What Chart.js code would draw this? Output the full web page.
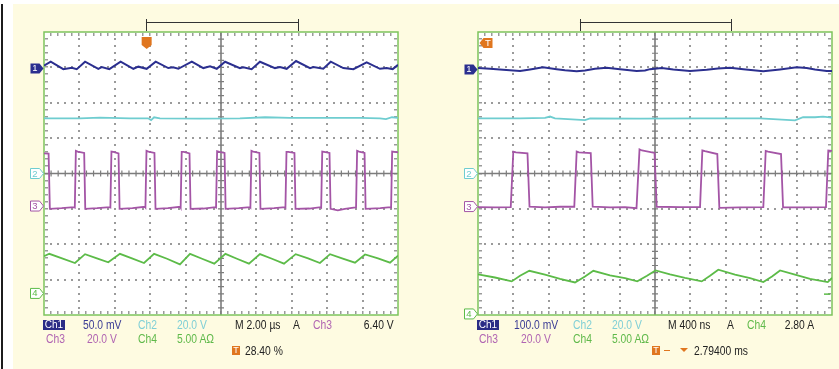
<!DOCTYPE html>
<html>
<head>
<meta charset="utf-8">
<script src="https://cdn.jsdelivr.net/npm/chart.js@4.4.1/dist/chart.umd.min.js"></script>
<style>
html,body{margin:0;padding:0;background:#fff;overflow:hidden}
#page{position:relative;width:839px;height:369px;background:#fff;font-family:"Liberation Sans",Arial,sans-serif;font-size:12px}
#cream{position:absolute;left:13px;top:4px;right:0;bottom:0;background:#fefbe1}
#bar{position:absolute;left:1px;top:4px;width:2px;bottom:0;background:#1c1c1c}
canvas{position:absolute;top:12px}
.t{position:absolute;white-space:nowrap;line-height:14px;transform:scaleX(0.86);transform-origin:0 50%}
.t.ra{transform-origin:100% 50%;text-align:right}
.r1{top:317.5px}.r2{top:332px}.r3{top:343.5px}
.nv{color:#3b3c95}.cy{color:#7fcfd6}.mg{color:#b064b2}.gr{color:#5fb94a}.bk{color:#222}
.chbox{position:absolute;top:320px;width:22px;height:10px;background:#2a2c86;color:#fff;font-size:10px;line-height:10px;text-align:center}
.tbox{position:absolute;top:345.5px;width:8px;height:9.5px;background:#e0761f;color:#fff;font-size:9px;line-height:9.5px;text-align:center}
.mk{position:absolute;width:10px;height:10px;font-size:9.5px;line-height:10px;text-align:center}
</style>
</head>
<body>
<div id="page">
  <div id="cream"></div>
  <div id="bar"></div>
  <canvas id="left" width="380" height="323" style="left:24px"></canvas>
  <canvas id="right" width="380" height="323" style="left:458px"></canvas>

  <div class="chbox" style="left:43px">Ch1</div>
  <div class="t r1 nv" style="left:82.5px">50.0 mV</div>
  <div class="t r1 cy" style="left:138px">Ch2</div>
  <div class="t r1 cy" style="left:177px">20.0 V</div>
  <div class="t r1 bk" style="left:235px">M 2.00 µs</div>
  <div class="t r1 bk" style="left:293px">A</div>
  <div class="t r1 mg" style="left:312.5px">Ch3</div>
  <div class="t r1 bk ra" style="right:445.5px">6.40 V</div>
  <div class="t r2 mg" style="left:46px">Ch3</div>
  <div class="t r2 mg" style="left:87px">20.0 V</div>
  <div class="t r2 gr" style="left:138px">Ch4</div>
  <div class="t r2 gr" style="left:177px">5.00 AΩ</div>
  <div class="tbox" style="left:232px">T</div>
  <div class="t r3 bk" style="left:245px">28.40 %</div>

  <div class="chbox" style="left:477px">Ch1</div>
  <div class="t r1 nv" style="left:514px">100.0 mV</div>
  <div class="t r1 cy" style="left:572.5px">Ch2</div>
  <div class="t r1 cy" style="left:611.5px">20.0 V</div>
  <div class="t r1 bk" style="left:668px">M 400 ns</div>
  <div class="t r1 bk" style="left:726.5px">A</div>
  <div class="t r1 gr" style="left:746.5px">Ch4</div>
  <div class="t r1 bk ra" style="right:24.5px">2.80 A</div>
  <div class="t r2 mg" style="left:479px">Ch3</div>
  <div class="t r2 mg" style="left:521px">20.0 V</div>
  <div class="t r2 gr" style="left:572.5px">Ch4</div>
  <div class="t r2 gr" style="left:611.5px">5.00 AΩ</div>
  <div class="tbox" style="left:652px">T</div>
  <div style="position:absolute;left:664px;top:349.5px;width:6px;height:1.5px;background:#e0761f"></div>
  <div style="position:absolute;left:680px;top:347.5px;width:0;height:0;border-left:4px solid transparent;border-right:4px solid transparent;border-top:4.5px solid #e0761f"></div>
  <div class="t r3 bk" style="left:694px">2.79400 ms</div>
</div>
<script>
// traces as [time, divisions from centre]; left panel time in µs, right panel in ns
const leftCh1 = [[0,3.05],[0.38,3.16],[1.09,2.95],[1.57,2.99],[1.85,2.95],[2.32,3.16],[3.07,2.96],[3.26,3.01],[3.69,2.95],[4.33,3.16],[5.05,2.96],[5.33,3.02],[5.80,2.96],[6.31,3.16],[7.02,2.98],[7.29,3.0],[7.59,2.96],[8.35,3.16],[9.0,2.98],[9.38,3.03],[9.76,2.96],[10.23,3.16],[11.07,2.98],[11.26,3.0],[11.73,2.95],[12.20,3.16],[13.05,2.98],[13.33,3.01],[13.71,2.96],[14.24,3.18],[15.03,2.98],[15.22,3.01],[15.78,2.96],[16.20,3.16],[16.91,2.98],[17.48,2.95],[18.23,3.14],[18.98,2.96],[19.36,2.98],[19.70,2.95],[20,3.07]];
const leftCh2 = [[0,1.56],[2.03,1.56],[3.16,1.58],[4.86,1.56],[5.88,1.56],[6.05,1.51],[6.22,1.59],[6.55,1.56],[8.81,1.55],[11.07,1.56],[12.49,1.59],[13.90,1.57],[16.16,1.57],[17.85,1.57],[18.98,1.56],[19.32,1.54],[19.66,1.59],[20,1.57]];
const leftCh3 = [[0,0.57],[0.26,0.56],[0.33,-1.0],[1.0,-0.98],[1.70,-0.95],
  [1.74,-0.96],[1.80,0.64],[1.90,0.62],[2.27,0.58],[2.33,-1.0],[3.0,-0.98],[3.72,-0.95],
  [3.75,-0.96],[3.81,0.62],[3.92,0.61],[4.21,0.57],[4.27,-1.0],[5.0,-0.98],[5.70,-0.94],
  [5.73,-0.96],[5.79,0.64],[5.90,0.62],[6.24,0.58],[6.30,-1.0],[7.0,-0.98],[7.70,-0.94],
  [7.72,-0.96],[7.78,0.61],[7.90,0.61],[8.22,0.57],[8.28,-1.0],[9.0,-0.99],[9.69,-0.95],
  [9.72,-0.96],[9.78,0.63],[9.90,0.61],[10.20,0.58],[10.26,-1.0],[11.0,-0.98],[11.64,-0.95],
  [11.66,-0.96],[11.72,0.64],[11.82,0.62],[12.17,0.58],[12.23,-1.0],[13.0,-0.98],[13.62,-0.95],
  [13.64,-0.96],[13.70,0.61],[13.80,0.61],[14.15,0.58],[14.21,-1.0],[15.0,-0.99],[15.64,-0.95],
  [15.66,-0.96],[15.72,0.62],[15.82,0.61],[16.13,0.58],[16.19,-1.0],[16.6,-1.04],[17.0,-1.0],[17.60,-0.96],
  [17.63,-0.96],[17.69,0.64],[17.80,0.62],[18.11,0.58],[18.17,-1.0],[19.0,-0.98],[19.58,-0.95],
  [19.61,-0.96],[19.67,0.62],[19.80,0.61],[20,0.60]];
const leftCh4 = [[0,-2.34],[0.30,-2.27],[1.02,-2.40],[1.75,-2.53],[2.32,-2.28],[2.99,-2.40],[3.63,-2.51],[4.29,-2.27],[4.97,-2.40],[5.65,-2.53],[6.22,-2.27],[6.95,-2.41],[7.68,-2.57],[8.25,-2.27],[8.93,-2.41],[9.62,-2.55],[10.25,-2.27],[10.90,-2.41],[11.58,-2.55],[12.20,-2.28],[12.88,-2.41],[13.56,-2.55],[14.22,-2.28],[14.92,-2.40],[15.59,-2.53],[16.16,-2.28],[16.84,-2.40],[17.57,-2.52],[18.14,-2.29],[18.87,-2.40],[19.55,-2.52],[20,-2.32]];

const rightCh1 = [[0,2.98],[136,2.96],[283,2.93],[475,2.90],[588,2.94],[735,3.00],[889,2.95],[983,2.92],[1115,2.89],[1209,2.91],[1322,2.96],[1454,2.99],[1605,2.95],[1793,2.90],[1887,2.91],[1944,2.95],[2076,2.98],[2207,2.94],[2396,2.90],[2584,2.93],[2712,2.97],[2848,2.99],[2998,2.95],[3224,2.89],[3412,2.94],[3601,3.00],[3714,2.98],[3808,2.94],[3940,2.90],[4000,2.90]];
const rightCh2 = [[0,1.56],[475,1.56],[757,1.57],[814,1.61],[870,1.56],[1209,1.51],[1266,1.56],[1831,1.55],[2509,1.56],[3187,1.56],[3582,1.50],[3673,1.59],[3808,1.59],[3899,1.61],[4000,1.58]];
const rightCh3 = [[0,-0.95],[192,-0.96],[370,-0.95],[399,0.62],[429,0.60],[559,0.57],[582,-0.94],[757,-0.96],[927,-0.94],[1088,-0.94],[1115,0.62],[1141,0.60],[1274,0.58],[1296,-0.94],[1492,-0.96],[1661,-0.95],[1791,-0.98],[1825,0.68],[1853,0.65],[1995,0.58],[2019,-0.94],[2283,-0.95],[2509,-0.95],[2535,0.65],[2565,0.63],[2704,0.55],[2727,-0.97],[2961,-0.96],[3224,-0.95],[3251,0.64],[3277,0.62],[3424,0.55],[3447,-0.96],[3639,-0.96],[3932,-0.95],[3958,0.65],[4000,0.64]];
const rightCh4 = [[0,-2.85],[192,-2.94],[381,-3.05],[475,-2.89],[580,-2.75],[757,-2.86],[927,-2.98],[1096,-3.08],[1209,-2.91],[1303,-2.75],[1492,-2.88],[1661,-2.96],[1800,-3.05],[1910,-2.89],[2006,-2.74],[2170,-2.85],[2339,-2.95],[2528,-3.05],[2622,-2.89],[2715,-2.72],[2904,-2.86],[3074,-2.96],[3224,-3.07],[3322,-2.91],[3413,-2.74],[3582,-2.86],[3752,-2.98],[3952,-3.07],[4000,-2.95]];

// channel reference levels (divisions), record bracket and trigger
const leftLevels = [2.97, 0, -0.92, -3.39];
const rightLevels = [2.94, 0, -0.935, -3.97];
const leftRecord = [5.76, 14.35];
const rightRecord = [1152, 2858];
const leftTrigTime = 5.8;
const rightTrigLevel = -3.41;

const colors = ['#2b2f8f', '#6fcdd0', '#a455a6', '#5cbb48'];
const page = document.getElementById('page');

function drawGraticule(chart){
  const {ctx, chartArea: a, scales: {x, y}} = chart;
  const xs = [], ys = [];
  for(let i=0;i<=10;i++) xs.push(x.getPixelForValue(x.min + (x.max - x.min) * i / 10));
  for(let j=0;j<=8;j++) ys.push(y.getPixelForValue(4 - j));
  const w = a.right - a.left, h = a.bottom - a.top;
  const dx = w / 50, dy = h / 40;
  ctx.save();
  ctx.fillStyle = '#fff';
  ctx.fillRect(a.left, a.top, w, h);
  ctx.fillStyle = '#9a9a9a';
  for(let i=1;i<10;i++){
    if(i === 5) continue;
    for(let k=1;k<40;k++) ctx.fillRect(Math.round(xs[i]) - 1, Math.round(a.top + k*dy) - 1, 2, 2);
  }
  for(let j=1;j<8;j++){
    if(j === 4) continue;
    for(let k=1;k<50;k++) ctx.fillRect(Math.round(a.left + k*dx) - 1, Math.round(ys[j]) - 1, 2, 2);
  }
  // border ticks
  for(let k=1;k<50;k++){
    const px = Math.round(a.left + k*dx) - 1;
    ctx.fillRect(px, a.top + 1, 1.5, 3);
    ctx.fillRect(px, a.bottom - 4, 1.5, 3);
  }
  for(let k=1;k<40;k++){
    const py = Math.round(a.top + k*dy) - 1;
    ctx.fillRect(a.left + 1, py, 3, 1.5);
    ctx.fillRect(a.right - 4, py, 3, 1.5);
  }
  // centre cross
  ctx.strokeStyle = '#7c7c7c';
  ctx.lineWidth = 1.6;
  ctx.beginPath();
  ctx.moveTo(xs[5], a.top); ctx.lineTo(xs[5], a.bottom);
  ctx.moveTo(a.left, ys[4]); ctx.lineTo(a.right, ys[4]);
  ctx.stroke();
  ctx.lineWidth = 1.2;
  ctx.beginPath();
  for(let k=1;k<50;k++){
    const px = a.left + k*dx;
    ctx.moveTo(px, ys[4] - 3); ctx.lineTo(px, ys[4] + 3);
  }
  for(let k=1;k<40;k++){
    const py = a.top + k*dy;
    ctx.moveTo(xs[5] - 3, py); ctx.lineTo(xs[5] + 3, py);
  }
  ctx.stroke();
  ctx.strokeStyle = '#7dc45c';
  ctx.lineWidth = 1.5;
  ctx.strokeRect(a.left, a.top, w, h);
  ctx.restore();
}

function placeLabel(chart, key, text, cx, cy, color){
  const c = chart.canvas;
  chart._labels = chart._labels || {};
  let el = chart._labels[key];
  if(!el){
    el = document.createElement('div');
    el.className = 'mk';
    page.appendChild(el);
    chart._labels[key] = el;
  }
  el.textContent = text;
  el.style.color = color;
  el.style.left = (c.offsetLeft + cx - 5) + 'px';
  el.style.top = (c.offsetTop + cy - 5) + 'px';
}

function drawMarkers(chart, args, opts){
  const {ctx, chartArea: a, scales: {x, y}} = chart;
  ctx.save();
  const tip = a.left - 0.5;
  opts.levels.forEach((lv, i) => {
    const py = y.getPixelForValue(lv);
    ctx.beginPath();
    ctx.moveTo(tip - 13, py - 5); ctx.lineTo(tip - 4, py - 5); ctx.lineTo(tip, py);
    ctx.lineTo(tip - 4, py + 5); ctx.lineTo(tip - 13, py + 5); ctx.closePath();
    if(i === 0){
      ctx.fillStyle = colors[0]; ctx.fill();
    } else {
      ctx.fillStyle = '#fff'; ctx.fill();
      ctx.strokeStyle = colors[i]; ctx.lineWidth = 1; ctx.stroke();
    }
    placeLabel(chart, 'ch' + i, String(i + 1), tip - 8.5, py, i === 0 ? '#fff' : colors[i]);
  });
  // record bracket
  const bx1 = x.getPixelForValue(opts.record[0]), bx2 = x.getPixelForValue(opts.record[1]);
  const by = a.top - 9.5;
  ctx.strokeStyle = '#333'; ctx.lineWidth = 1;
  ctx.beginPath();
  ctx.moveTo(Math.round(bx1) + 0.5, a.top - 13); ctx.lineTo(Math.round(bx1) + 0.5, a.top - 1);
  ctx.moveTo(Math.round(bx2) + 0.5, a.top - 13); ctx.lineTo(Math.round(bx2) + 0.5, a.top - 1);
  ctx.moveTo(bx1, by); ctx.lineTo(bx2, by);
  ctx.stroke();
  // trigger marker
  ctx.fillStyle = '#e0761f';
  if(opts.trigTime !== undefined){
    const tx = x.getPixelForValue(opts.trigTime);
    ctx.beginPath();
    ctx.moveTo(tx - 5, a.top + 5); ctx.lineTo(tx + 5, a.top + 5); ctx.lineTo(tx + 5, a.top + 13);
    ctx.lineTo(tx, a.top + 17); ctx.lineTo(tx - 5, a.top + 13); ctx.closePath();
    ctx.fill();
  } else {
    const tx = a.left + 1.5, ty = a.top + 11;
    ctx.beginPath();
    ctx.moveTo(tx, ty); ctx.lineTo(tx + 4, ty - 5); ctx.lineTo(tx + 13, ty - 5);
    ctx.lineTo(tx + 13, ty + 5); ctx.lineTo(tx + 4, ty + 5); ctx.closePath();
    ctx.fill();
    placeLabel(chart, 'trig', 'T', tx + 8.5, ty, '#fff');
  }
  if(opts.trigLevel !== undefined){
    const ly = y.getPixelForValue(opts.trigLevel);
    ctx.strokeStyle = colors[3]; ctx.lineWidth = 1.5;
    ctx.beginPath(); ctx.moveTo(a.right - 8, ly); ctx.lineTo(a.right - 2, ly); ctx.stroke();
  }
  ctx.restore();
}

const scopePlugin = {
  id: 'scope',
  beforeDatasetsDraw(chart){ drawGraticule(chart); },
  afterDraw(chart, args, opts){ drawMarkers(chart, args, opts); }
};

function makeScope(id, traces, xmax, scopeOpts){
  return new Chart(document.getElementById(id), {
    type: 'scatter',
    data: {
      datasets: [1, 2, 3, 0].map(i => ({
        data: traces[i].map(([t, v]) => ({x: t, y: v})),
        showLine: true,
        borderColor: colors[i],
        borderWidth: i === 0 ? 2 : 1.8,
        pointRadius: 0,
        fill: false,
        tension: 0
      }))
    },
    options: {
      responsive: false,
      animation: false,
      devicePixelRatio: 1,
      events: [],
      layout: {padding: {left: 20, right: 6, top: 20, bottom: 20}},
      plugins: {legend: {display: false}, tooltip: {enabled: false}, scope: scopeOpts},
      scales: {
        x: {type: 'linear', min: 0, max: xmax, display: false},
        y: {type: 'linear', min: -4, max: 4, display: false}
      }
    },
    plugins: [scopePlugin]
  });
}

makeScope('left', [leftCh1, leftCh2, leftCh3, leftCh4], 20,
  {levels: leftLevels, record: leftRecord, trigTime: leftTrigTime});
makeScope('right', [rightCh1, rightCh2, rightCh3, rightCh4], 4000,
  {levels: rightLevels, record: rightRecord, trigLevel: rightTrigLevel});
</script>
</body>
</html>
